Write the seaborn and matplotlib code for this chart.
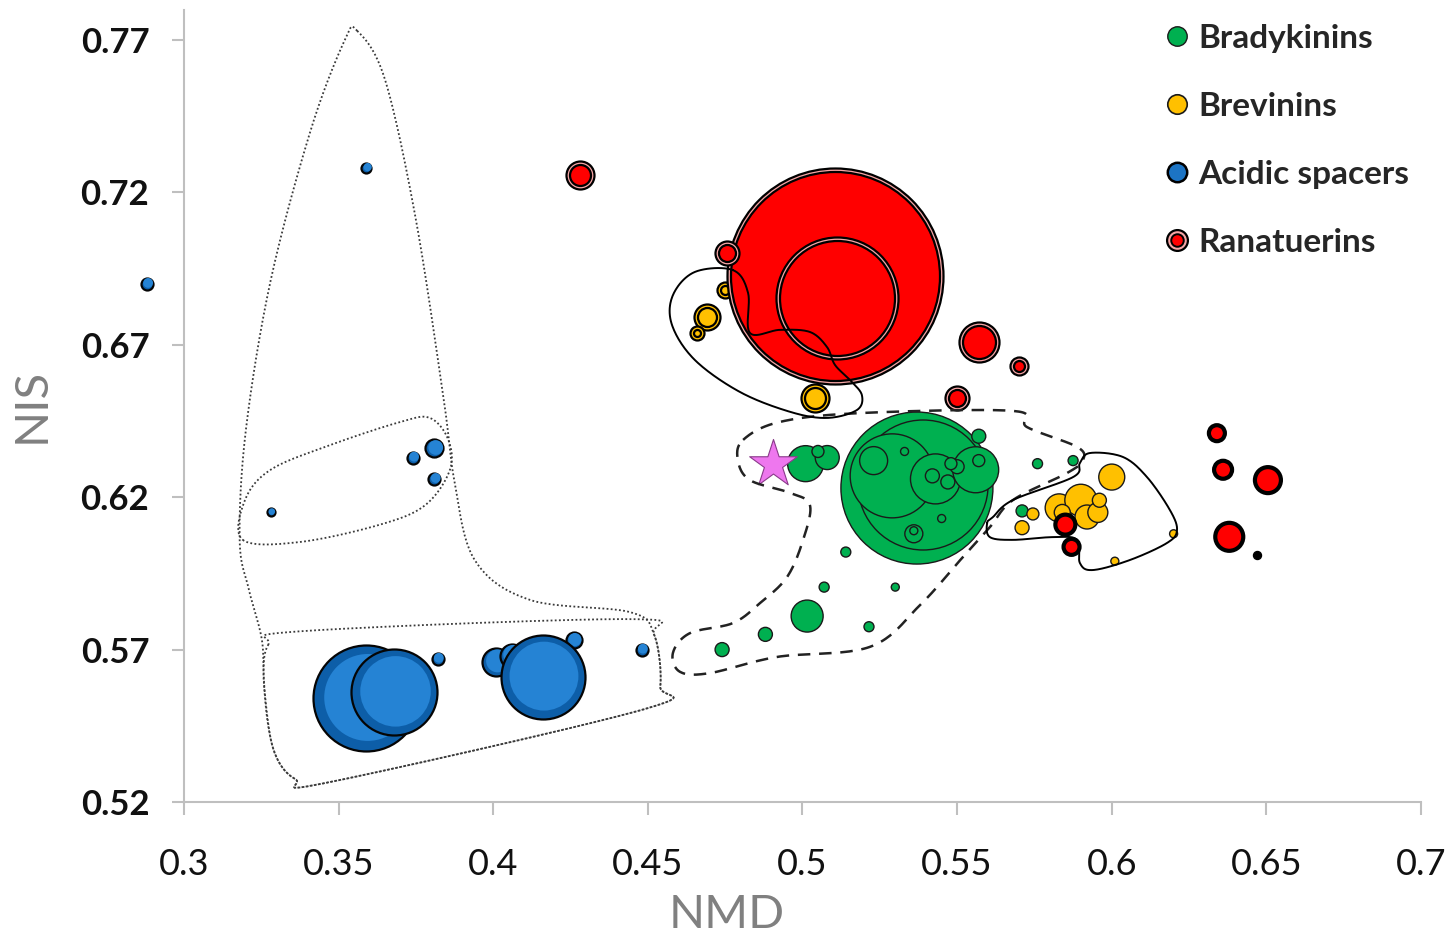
import numpy as np
import pandas as pd
import matplotlib
matplotlib.use("Agg")
import matplotlib.pyplot as plt
from matplotlib.lines import Line2D
from matplotlib.legend_handler import HandlerTuple
import seaborn as sns

# --- data: NMD (x), NIS (y), bubble radius (px) ---
blue_x = [0.288, 0.359, 0.328, 0.374, 0.381, 0.381, 0.359, 0.368, 0.382, 0.401, 0.406, 0.426, 0.416, 0.448]
blue_y = [0.690, 0.728, 0.615, 0.633, 0.636, 0.626, 0.554, 0.556, 0.567, 0.566, 0.568, 0.573, 0.561, 0.570]
blue_r = [6, 5, 4, 6, 9, 6, 53, 43, 6, 14, 12, 8, 42, 6]

green_x = [0.537, 0.539, 0.529, 0.543, 0.556, 0.523, 0.533, 0.557, 0.542, 0.547, 0.550, 0.548, 0.557,
           0.545, 0.536, 0.536, 0.514, 0.501, 0.508, 0.505, 0.576, 0.5875, 0.571,
           0.474, 0.488, 0.5015, 0.507, 0.530, 0.5215]
green_y = [0.623, 0.624, 0.627, 0.626, 0.629, 0.632, 0.635, 0.640, 0.627, 0.625, 0.630, 0.631, 0.632,
           0.613, 0.608, 0.609, 0.602, 0.631, 0.633, 0.635, 0.631, 0.632, 0.6155,
           0.570, 0.575, 0.581, 0.5905, 0.5905, 0.5775]
green_r = [76, 65, 42, 25, 23, 14, 4, 7, 7, 7, 7, 6, 6,
           4, 9, 4, 5, 18, 12, 6, 5, 5, 6,
           7, 7, 16, 5, 4, 5]

# brevinins drawn with a double ring
yel_ring_x = [0.504, 0.469, 0.466, 0.475]
yel_ring_y = [0.6525, 0.679, 0.674, 0.688]
yel_ring_r = [14, 13, 7, 8]

yel_x = [0.600, 0.583, 0.590, 0.592, 0.5955, 0.596, 0.584, 0.5745, 0.571, 0.620, 0.601]
yel_y = [0.6266, 0.6165, 0.619, 0.6135, 0.615, 0.619, 0.615, 0.6145, 0.610, 0.608, 0.599]
yel_r = [13, 14, 16, 12, 10, 7, 8, 6, 7, 4, 4]

# ranatuerins drawn with a double ring
red_ring_x = [0.5105, 0.511, 0.428, 0.4756, 0.557, 0.570, 0.550]
red_ring_y = [0.6926, 0.6854, 0.7257, 0.700, 0.671, 0.663, 0.6525]
red_ring_r = [108, 61, 14, 12, 20, 9, 12]

red_x = [0.634, 0.636, 0.6505, 0.638, 0.585, 0.587]
red_y = [0.641, 0.629, 0.6256, 0.607, 0.611, 0.6037]
red_r = [8, 9, 13, 14, 10, 8]

tiny_x = [0.647]
tiny_y = [0.601]

star_x = [0.4905]
star_y = [0.631]

# group outlines (NMD, NIS)
tear_x = [0.356, 0.365, 0.375, 0.384, 0.3874, 0.394, 0.4119, 0.4442, 0.452, 0.454, 0.449,
          0.347, 0.336, 0.329, 0.326, 0.3252, 0.321, 0.318, 0.320, 0.328, 0.341, 0.352]
tear_y = [0.773, 0.757, 0.711, 0.652, 0.6256, 0.5994, 0.5863, 0.5823, 0.575, 0.558, 0.5505,
          0.5265, 0.5275, 0.537, 0.557, 0.5731, 0.5896, 0.606, 0.642, 0.691, 0.7405, 0.770]
box_x = [0.3272, 0.3375, 0.444, 0.452, 0.454, 0.449, 0.347, 0.336, 0.329, 0.326]
box_y = [0.5715, 0.576, 0.580, 0.575, 0.558, 0.5505, 0.5265, 0.5275, 0.537, 0.557]
oval_x = [0.319, 0.3375, 0.3634, 0.378, 0.386, 0.3854, 0.3795, 0.370, 0.347, 0.328, 0.3197]
oval_y = [0.606, 0.6053, 0.611, 0.6174, 0.629, 0.639, 0.646, 0.6447, 0.637, 0.629, 0.619]
brev_x = [0.4775, 0.4824, 0.483, 0.4927, 0.5024, 0.5079, 0.5105, 0.5154, 0.5192, 0.5176, 0.5079, 0.496, 0.4798, 0.4652, 0.4578, 0.4581, 0.4652]
brev_y = [0.6945, 0.687, 0.6739, 0.6749, 0.6742, 0.6693, 0.6634, 0.6584, 0.6535, 0.6486, 0.646, 0.648, 0.6545, 0.665, 0.6765, 0.6863, 0.6939]
brady_x = [0.4808, 0.4927, 0.5186, 0.5681, 0.5726, 0.5888, 0.5907, 0.5855, 0.5681, 0.5606, 0.5519, 0.538, 0.5218,
           0.4918, 0.4701, 0.4604, 0.4581, 0.4636, 0.4775, 0.4863, 0.495, 0.5002, 0.5024, 0.496, 0.483, 0.4791]
brady_y = [0.6388, 0.6447, 0.6476, 0.6483, 0.643, 0.6365, 0.6322, 0.6279, 0.6191, 0.6102, 0.6004, 0.5846, 0.5709,
           0.5676, 0.5623, 0.5627, 0.5689, 0.5754, 0.5787, 0.5853, 0.5938, 0.606, 0.6174, 0.6214, 0.6256, 0.6322]
brev2_x = [0.5597, 0.5606, 0.5681, 0.581, 0.5888, 0.5897, 0.5939, 0.6059, 0.6179, 0.6211, 0.6188, 0.6114, 0.6036, 0.593, 0.5897, 0.5875, 0.5681, 0.5616]
brev2_y = [0.6115, 0.6069, 0.606, 0.6069, 0.606, 0.5984, 0.5961, 0.5994, 0.605, 0.6092, 0.6158, 0.6266, 0.6332, 0.6345, 0.6312, 0.6266, 0.6191, 0.6135]

GREEN = "#00b050"
YELLOW = "#ffc000"
BLUE = "#1c74c4"
RED = "#ff0000"
PINK = "#f6a5a5"


def area(r):
    # radius in pixels -> scatter area in points^2 (dpi 100)
    return (np.asarray(r, dtype=float) * 2 * 72 / 100) ** 2


def smooth_closed(xs, ys, n=24):
    P = np.column_stack([xs, ys])
    N = len(P)
    t = np.linspace(0, 1, n, endpoint=False)[:, None]
    segs = []
    for i in range(N):
        p0, p1, p2, p3 = P[i - 1], P[i], P[(i + 1) % N], P[(i + 2) % N]
        segs.append(0.5 * (2 * p1 + (-p0 + p2) * t + (2 * p0 - 5 * p1 + 4 * p2 - p3) * t ** 2
                           + (-p0 + 3 * p1 - 3 * p2 + p3) * t ** 3))
    out = np.vstack(segs + [P[:1]])
    return out[:, 0], out[:, 1]


sns.set_theme(style="white")
plt.rcParams["font.family"] = ["Lato", "DejaVu Sans"]

fig = plt.figure(figsize=(14.51, 9.40), dpi=100)
ax = fig.add_axes([184 / 1451, 138 / 940, 1237 / 1451, 792.5 / 940])


def bubbles(x, y, r, face, edge="black", lw=1.1, z=2):
    df = pd.DataFrame({"NMD": x, "NIS": y})
    sns.scatterplot(data=df, x="NMD", y="NIS", s=area(r), color=face, edgecolor=edge,
                    linewidth=lw, ax=ax, zorder=z, legend=False, clip_on=False)


def ring_bubbles(x, y, r, face, gap, z=3):
    r = np.asarray(r, dtype=float)
    for xi, yi, ri in zip(x, y, r):
        bubbles([xi], [yi], [ri], gap, lw=1.6, z=z)
        bubbles([xi], [yi], [max(ri - 3.5, 1.5)], face, lw=1.6, z=z)


# blue (shaded look: dark rim, lighter core)
for xi, yi, ri in zip(blue_x, blue_y, blue_r):
    bubbles([xi], [yi], [ri], "#0d5ea8", edge="#050505", lw=1.6, z=2)
    bubbles([xi + 0.0004], [yi + 0.0003], [ri * 0.82], "#2583d4", edge="none", lw=0, z=2)

# green
bubbles(green_x, green_y, green_r, GREEN, edge="#1a1a1a", lw=1.0, z=2)

# yellow
bubbles(yel_x, yel_y, yel_r, YELLOW, edge="#1a1a1a", lw=1.0, z=3)
ring_bubbles(yel_ring_x, yel_ring_y, yel_ring_r, YELLOW, YELLOW, z=3)

# red
ring_bubbles(red_ring_x[:2], red_ring_y[:2], red_ring_r[:2], RED, PINK, z=3)
ring_bubbles(red_ring_x[2:], red_ring_y[2:], red_ring_r[2:], RED, PINK, z=4)
bubbles(red_x, red_y, red_r, RED, edge="black", lw=3.0, z=4)
bubbles(tiny_x, tiny_y, [4], "black", edge="black", lw=1.0, z=4)

# reference star
ax.scatter(star_x, star_y, marker="*", s=1300, color="#ee77ee", edgecolor="#8a3a8a",
           linewidth=0.8, zorder=5)

# outlines
dotted = dict(color="#3a3a3a", lw=1.3, ls=(0, (1, 1.3)), zorder=6)
for ox, oy in [(tear_x, tear_y), (box_x, box_y), (oval_x, oval_y)]:
    sx, sy = smooth_closed(ox, oy)
    ax.plot(sx, sy, **dotted)
sx, sy = smooth_closed(brady_x, brady_y)
ax.plot(sx, sy, color="#222222", lw=1.8, ls=(0, (5, 3.5)), zorder=6)
for ox, oy in [(brev_x, brev_y), (brev2_x, brev2_y)]:
    sx, sy = smooth_closed(ox, oy)
    ax.plot(sx, sy, color="black", lw=1.4, zorder=6)

ax.set_xlim(0.3, 0.7)
ax.set_ylim(0.52, 0.78)
ax.set_xticks(np.arange(0.3, 0.701, 0.05))
ax.set_xticklabels(["0.3", "0.35", "0.4", "0.45", "0.5", "0.55", "0.6", "0.65", "0.7"],
                   fontsize=26)
ax.set_yticks([0.52, 0.57, 0.62, 0.67, 0.72, 0.77])
ax.set_yticklabels(["0.52", "0.57", "0.62", "0.67", "0.72", "0.77"], fontsize=25,
                   fontweight="bold")
ax.tick_params(axis="both", direction="out", length=9, width=1.5, color="#bfbfbf",
               colors="#111111", left=True, bottom=True)
ax.tick_params(axis="x", pad=24)
ax.tick_params(axis="y", pad=16)
sns.despine(ax=ax)
for sp in ["left", "bottom"]:
    ax.spines[sp].set_color("#bfbfbf")
    ax.spines[sp].set_linewidth(1.5)
ax.set_xlabel("NMD", fontsize=34, color="#808080")
ax.xaxis.set_label_coords((727 - 184) / 1237, -92 / 792.5)
ax.set_ylabel("NIS", fontsize=34, color="#808080", labelpad=20)

handles = [
    Line2D([], [], marker="o", ls="", ms=14, mfc=GREEN, mec="#1a1a1a", mew=1.0),
    Line2D([], [], marker="o", ls="", ms=14, mfc=YELLOW, mec="#1a1a1a", mew=1.2),
    Line2D([], [], marker="o", ls="", ms=14, mfc=BLUE, mec="black", mew=1.8),
    (Line2D([], [], marker="o", ls="", ms=15, mfc=PINK, mec="black", mew=1.6),
     Line2D([], [], marker="o", ls="", ms=9, mfc=RED, mec="black", mew=1.4)),
]
labels = ["Bradykinins", "Brevinins", "Acidic spacers", "Ranatuerins"]
leg = fig.legend(handles, labels, loc="upper left", bbox_to_anchor=(1162 / 1451, 1 - 24 / 940),
                 frameon=False, handletextpad=0.2, labelspacing=1.17, handlelength=0.9,
                 borderpad=0, borderaxespad=0,
                 prop=dict(size=24, weight="bold"),
                 handler_map={tuple: HandlerTuple(ndivide=1)})

plt.savefig("out.png", dpi=100)
